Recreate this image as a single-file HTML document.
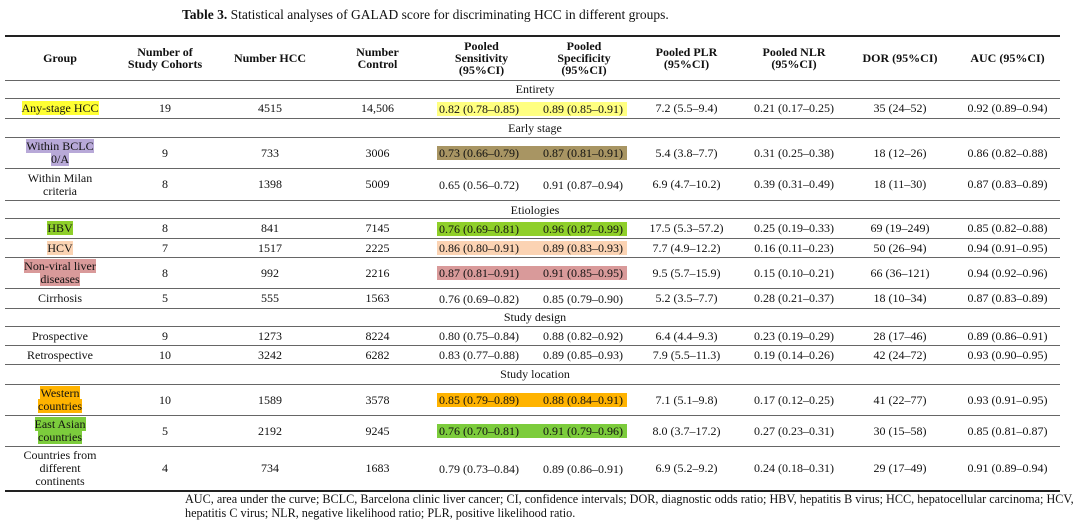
<!DOCTYPE html>
<html><head><meta charset="utf-8">
<style>
body{margin:0;background:#fff;width:1080px;height:524px;position:relative;overflow:hidden;font-family:"Liberation Serif",serif;font-size:12px;color:#111}
.t{position:absolute;left:182px;top:7px;font-size:13.5px;white-space:nowrap}
.l{position:absolute;left:5px;width:1055px;height:0;border-top:1.3px solid #666}
.k{border-top:2px solid #222}
.r{position:absolute;left:5px;width:1060px;display:flex;align-items:center}
.r>div{text-align:center;line-height:13px;flex:none}
.c1{width:110px}.c2{width:100px}.c3{width:110px}.c4{width:105px}.c5{width:103px;text-align:left!important}.c6{width:102px;text-align:left!important}.c7{width:103px}.c8{width:112px}.c9{width:100px}.c10{width:115px}
.h{font-weight:bold;line-height:12px!important}
.s{margin-left:7px;display:inline-block;width:94px;padding-left:2px;line-height:14px}
.p{display:inline-block;width:84px;padding-left:10px;line-height:14px}
.sec{position:absolute;left:5px;width:1060px;text-align:center}
.hl{line-height:13px}
.foot{position:absolute;left:185px;font-size:12.2px;white-space:nowrap}
</style></head><body>
<div class="t"><b>Table 3.</b> Statistical analyses of GALAD score for discriminating HCC in different groups.</div>
<div class="l k" style="top:35px"></div>
<div class="r" style="top:36px;height:44px">
<div class="c1 h">Group</div><div class="c2 h">Number of<br>Study Cohorts</div><div class="c3 h">Number HCC</div><div class="c4 h">Number<br>Control</div><div class="c5 h" style="text-align:center!important">Pooled<br>Sensitivity<br>(95%CI)</div><div class="c6 h" style="text-align:center!important">Pooled<br>Specificity<br>(95%CI)</div><div class="c7 h">Pooled PLR<br>(95%CI)</div><div class="c8 h">Pooled NLR<br>(95%CI)</div><div class="c9 h">DOR (95%CI)</div><div class="c10 h">AUC (95%CI)</div></div>
<div class="l" style="top:80px"></div>
<div class="sec" style="top:82px">Entirety</div>
<div class="l" style="top:98px"></div>
<div class="r" style="top:99px;height:19px"><div class="c1"><span style="background:#ffff33">Any-stage HCC</span></div><div class="c2">19</div><div class="c3">4515</div><div class="c4">14,506</div><div class="c5"><span class="s" style="background:#ffff80">0.82 (0.78–0.85)</span></div><div class="c6"><span class="p" style="background:#ffff80">0.89 (0.85–0.91)</span></div><div class="c7">7.2 (5.5–9.4)</div><div class="c8">0.21 (0.17–0.25)</div><div class="c9">35 (24–52)</div><div class="c10">0.92 (0.89–0.94)</div></div>
<div class="l" style="top:118px"></div>
<div class="sec" style="top:121px">Early stage</div>
<div class="l" style="top:137px"></div>
<div class="r" style="top:138px;height:30px"><div class="c1"><span class="hl" style="background:#b8a9d8">Within BCLC<br>0/A</span></div><div class="c2">9</div><div class="c3">733</div><div class="c4">3006</div><div class="c5"><span class="s" style="background:#a89563">0.73 (0.66–0.79)</span></div><div class="c6"><span class="p" style="background:#a89563">0.87 (0.81–0.91)</span></div><div class="c7">5.4 (3.8–7.7)</div><div class="c8">0.31 (0.25–0.38)</div><div class="c9">18 (12–26)</div><div class="c10">0.86 (0.82–0.88)</div></div>
<div class="l" style="top:168px"></div>
<div class="r" style="top:169px;height:31px"><div class="c1">Within Milan<br>criteria</div><div class="c2">8</div><div class="c3">1398</div><div class="c4">5009</div><div class="c5"><span class="s">0.65 (0.56–0.72)</span></div><div class="c6"><span class="p">0.91 (0.87–0.94)</span></div><div class="c7">6.9 (4.7–10.2)</div><div class="c8">0.39 (0.31–0.49)</div><div class="c9">18 (11–30)</div><div class="c10">0.87 (0.83–0.89)</div></div>
<div class="l" style="top:200px"></div>
<div class="sec" style="top:203px">Etiologies</div>
<div class="l" style="top:218px"></div>
<div class="r" style="top:219px;height:19px"><div class="c1"><span style="background:#8fcf2a">HBV</span></div><div class="c2">8</div><div class="c3">841</div><div class="c4">7145</div><div class="c5"><span class="s" style="background:#8fcf2a">0.76 (0.69–0.81)</span></div><div class="c6"><span class="p" style="background:#8fcf2a">0.96 (0.87–0.99)</span></div><div class="c7">17.5 (5.3–57.2)</div><div class="c8">0.25 (0.19–0.33)</div><div class="c9">69 (19–249)</div><div class="c10">0.85 (0.82–0.88)</div></div>
<div class="l" style="top:238px"></div>
<div class="r" style="top:239px;height:18px"><div class="c1"><span style="background:#fbd3b3">HCV</span></div><div class="c2">7</div><div class="c3">1517</div><div class="c4">2225</div><div class="c5"><span class="s" style="background:#fbd3b3">0.86 (0.80–0.91)</span></div><div class="c6"><span class="p" style="background:#fbd3b3">0.89 (0.83–0.93)</span></div><div class="c7">7.7 (4.9–12.2)</div><div class="c8">0.16 (0.11–0.23)</div><div class="c9">50 (26–94)</div><div class="c10">0.94 (0.91–0.95)</div></div>
<div class="l" style="top:257px"></div>
<div class="r" style="top:258px;height:30px"><div class="c1"><span class="hl" style="background:#d99a9a">Non-viral liver<br>diseases</span></div><div class="c2">8</div><div class="c3">992</div><div class="c4">2216</div><div class="c5"><span class="s" style="background:#d99a9a">0.87 (0.81–0.91)</span></div><div class="c6"><span class="p" style="background:#d99a9a">0.91 (0.85–0.95)</span></div><div class="c7">9.5 (5.7–15.9)</div><div class="c8">0.15 (0.10–0.21)</div><div class="c9">66 (36–121)</div><div class="c10">0.94 (0.92–0.96)</div></div>
<div class="l" style="top:288px"></div>
<div class="r" style="top:289px;height:19px"><div class="c1">Cirrhosis</div><div class="c2">5</div><div class="c3">555</div><div class="c4">1563</div><div class="c5"><span class="s">0.76 (0.69–0.82)</span></div><div class="c6"><span class="p">0.85 (0.79–0.90)</span></div><div class="c7">5.2 (3.5–7.7)</div><div class="c8">0.28 (0.21–0.37)</div><div class="c9">18 (10–34)</div><div class="c10">0.87 (0.83–0.89)</div></div>
<div class="l" style="top:308px"></div>
<div class="sec" style="top:310px">Study design</div>
<div class="l" style="top:326px"></div>
<div class="r" style="top:327px;height:18px"><div class="c1">Prospective</div><div class="c2">9</div><div class="c3">1273</div><div class="c4">8224</div><div class="c5"><span class="s">0.80 (0.75–0.84)</span></div><div class="c6"><span class="p">0.88 (0.82–0.92)</span></div><div class="c7">6.4 (4.4–9.3)</div><div class="c8">0.23 (0.19–0.29)</div><div class="c9">28 (17–46)</div><div class="c10">0.89 (0.86–0.91)</div></div>
<div class="l" style="top:345px"></div>
<div class="r" style="top:346px;height:18px"><div class="c1">Retrospective</div><div class="c2">10</div><div class="c3">3242</div><div class="c4">6282</div><div class="c5"><span class="s">0.83 (0.77–0.88)</span></div><div class="c6"><span class="p">0.89 (0.85–0.93)</span></div><div class="c7">7.9 (5.5–11.3)</div><div class="c8">0.19 (0.14–0.26)</div><div class="c9">42 (24–72)</div><div class="c10">0.93 (0.90–0.95)</div></div>
<div class="l" style="top:364px"></div>
<div class="sec" style="top:367px">Study location</div>
<div class="l" style="top:384px"></div>
<div class="r" style="top:385px;height:30px"><div class="c1"><span class="hl" style="background:#ffb300">Western<br>countries</span></div><div class="c2">10</div><div class="c3">1589</div><div class="c4">3578</div><div class="c5"><span class="s" style="background:#ffb300">0.85 (0.79–0.89)</span></div><div class="c6"><span class="p" style="background:#ffb300">0.88 (0.84–0.91)</span></div><div class="c7">7.1 (5.1–9.8)</div><div class="c8">0.17 (0.12–0.25)</div><div class="c9">41 (22–77)</div><div class="c10">0.93 (0.91–0.95)</div></div>
<div class="l" style="top:415px"></div>
<div class="r" style="top:416px;height:30px"><div class="c1"><span class="hl" style="background:#7ccc3c">East Asian<br>countries</span></div><div class="c2">5</div><div class="c3">2192</div><div class="c4">9245</div><div class="c5"><span class="s" style="background:#7ccc3c">0.76 (0.70–0.81)</span></div><div class="c6"><span class="p" style="background:#7ccc3c">0.91 (0.79–0.96)</span></div><div class="c7">8.0 (3.7–17.2)</div><div class="c8">0.27 (0.23–0.31)</div><div class="c9">30 (15–58)</div><div class="c10">0.85 (0.81–0.87)</div></div>
<div class="l" style="top:446px"></div>
<div class="r" style="top:447px;height:43px"><div class="c1">Countries from<br>different<br>continents</div><div class="c2">4</div><div class="c3">734</div><div class="c4">1683</div><div class="c5"><span class="s">0.79 (0.73–0.84)</span></div><div class="c6"><span class="p">0.89 (0.86–0.91)</span></div><div class="c7">6.9 (5.2–9.2)</div><div class="c8">0.24 (0.18–0.31)</div><div class="c9">29 (17–49)</div><div class="c10">0.91 (0.89–0.94)</div></div>
<div class="l k" style="top:490px"></div>
<div class="foot" style="top:492px">AUC, area under the curve; BCLC, Barcelona clinic liver cancer; CI, confidence intervals; DOR, diagnostic odds ratio; HBV, hepatitis B virus; HCC, hepatocellular carcinoma; HCV,</div>
<div class="foot" style="top:506px">hepatitis C virus; NLR, negative likelihood ratio; PLR, positive likelihood ratio.</div>
</body></html>
